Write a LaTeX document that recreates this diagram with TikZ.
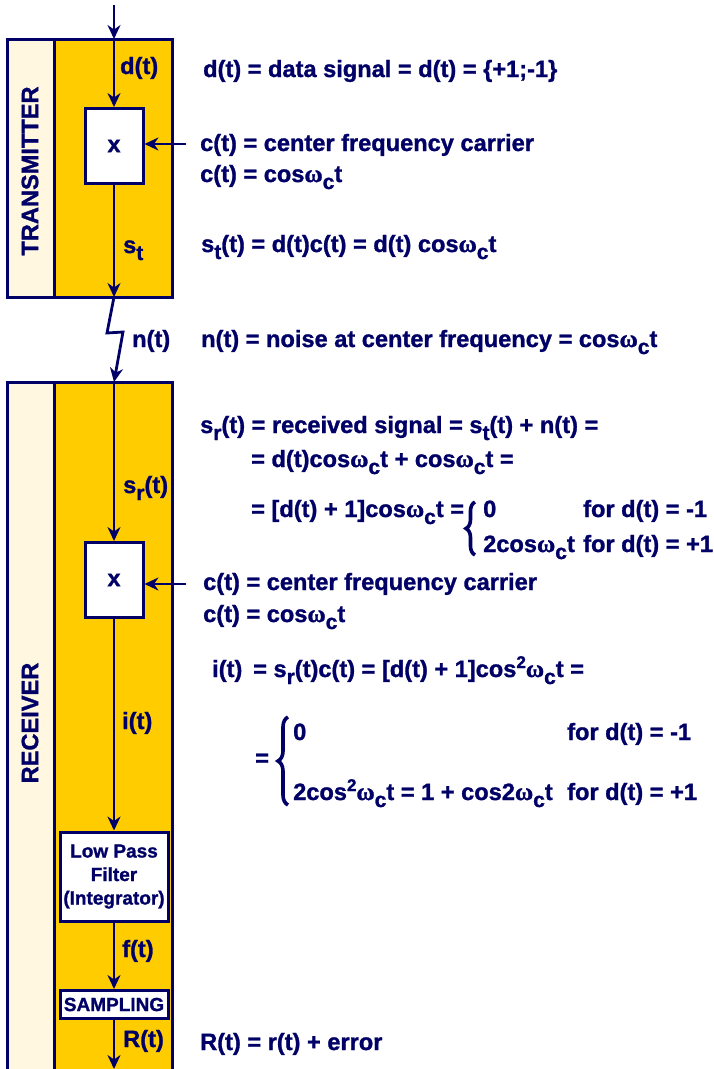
\documentclass[tikz,border=0pt]{standalone}
\usepackage{fontspec}
\setmainfont{Liberation Sans}[BoldFeatures={FakeBold=1.2}]
\newfontfamily\omfont{Liberation Serif}[BoldFeatures={FakeBold=1.2}]
\usetikzlibrary{arrows.meta,decorations.pathreplacing}
\definecolor{navy}{RGB}{0,0,102}
\definecolor{gold}{RGB}{255,204,0}
\definecolor{cream}{RGB}{255,247,224}
\newcommand{\lsub}[1]{\raisebox{-7pt}{\fontsize{21}{21}\selectfont #1}}
\newcommand{\usup}[1]{\raisebox{9pt}{\fontsize{17}{17}\selectfont #1}}
\newcommand{\cw}{{\omfont\fontsize{25}{28}\selectfont ω}\lsub{c}t}
\tikzset{
  txt/.style={font=\bfseries\fontsize{23.6}{28}\selectfont, text=navy, inner sep=0pt, anchor=base west},
  small/.style={font=\bfseries\fontsize{19}{23.5}\selectfont, text=navy, align=center},
  panel/.style={draw=navy, line width=3pt, fill=gold, inner sep=0pt},
  strip/.style={draw=navy, line width=3pt, fill=cream, inner sep=0pt},
  blk/.style={draw=navy, line width=3pt, fill=white, inner sep=0pt},
  arr/.style={draw=navy, line width=2.8pt, -{Stealth[length=14pt,width=13pt]}},
  brc/.style={draw=navy, line width=3.6pt, decorate}
}
\begin{document}
\begin{tikzpicture}[x=1pt,y=-1pt]
\clip (0,0) rectangle (714,1069);
\fill[white] (0,0) rectangle (714,1069);
% transmitter
\node[strip, minimum width=47, minimum height=258] (txs) at (30.5,168) {};
\node[panel, minimum width=118, minimum height=258] (tx) at (113,168) {};
\node[txt, anchor=center, rotate=90] (txl) at (30,171) {TRANSMITTER};
\node[blk, minimum width=58, minimum height=75] (m1) at (114,146) {};
\node[txt, anchor=center] (m1x) at (114,146) {x};
% receiver
\node[strip, minimum width=47, minimum height=720] (rxs) at (30.5,742) {};
\node[panel, minimum width=118, minimum height=720] (rx) at (113,742) {};
\node[txt, anchor=center, rotate=90] (rxl) at (30,723) {RECEIVER};
\node[blk, minimum width=58, minimum height=75] (m2) at (114,580) {};
\node[txt, anchor=center] (m2x) at (114,580) {x};
\node[blk, small, minimum width=108, minimum height=89, inner sep=0pt] (lpf) at (114,876.5) {Low Pass\\Filter\\(Integrator)};
\node[blk, small, minimum width=108, minimum height=28, inner sep=0pt] (smp) at (114,1004.5) {SAMPLING};
% coordinates
\coordinate (top) at (114,5);
\coordinate (txin) at (114,39);
\coordinate (txout) at (114,297);
\coordinate (z1) at (107,333);
\coordinate (z2) at (123,332);
\coordinate (rxin) at (114,382);
\coordinate (bot) at (114,1069);
\coordinate (c1) at (186,144);
\coordinate (c2) at (186,584);
% connectors
\draw[arr] (top) -- (txin);
\draw[arr] (txin) -- (m1.north);
\draw[arr] (m1.south) -- (txout);
\draw[arr] (txout) -- (z1) -- (z2) -- (rxin);
\draw[arr] (rxin) -- (m2.north);
\draw[arr] (m2.south) -- (lpf.north);
\draw[arr] (lpf.south) -- (smp.north);
\draw[arr] (smp.south) -- (bot);
\draw[arr] (c1) -- (c1 -| m1.east);
\draw[arr] (c2) -- (c2 -| m2.east);
% signal labels
\node[txt] (ld) at (120,74) {d(t)};
\node[txt] (ls) at (123,253) {s\lsub{t}};
\node[txt] (ln) at (132,347) {n(t)};
\node[txt] (lsr) at (123,493) {s\lsub{r}(t)};
\node[txt] (li) at (122,729) {i(t)};
\node[txt] (lf) at (122,957) {f(t)};
\node[txt] (lR) at (123,1047) {R(t)};
% equations
\node[txt] (e1) at (203,77) {d(t) = data signal = d(t) = \{+1;-1\}};
\node[txt] (e2) at (200,151) {c(t) = center frequency carrier};
\node[txt] (e3) at (200,182) {c(t) = cos\cw};
\node[txt] (e4) at (201,252) {s\lsub{t}(t) = d(t)c(t) = d(t) cos\cw};
\node[txt] (e5) at (201,347) {n(t) = noise at center frequency = cos\cw};
\node[txt] (e6) at (200,433) {s\lsub{r}(t) = received signal = s\lsub{t}(t) + n(t) =};
\node[txt] (e7) at (251,467) {= d(t)cos\cw{} + cos\cw{} =};
\node[txt] (e8) at (251,517) {= [d(t) + 1]cos\cw{} =};
\draw[brc, decoration={brace, amplitude=9pt}] (475,555) -- (475,502);
\node[txt] (e8a) at (483,517) {0};
\node[txt] (e8b) at (583,517) {for d(t) = -1};
\node[txt] (e8c) at (483,552) {2cos\cw};
\node[txt] (e8d) at (583,552) {for d(t) = +1};
\node[txt] (e9) at (203,590) {c(t) = center frequency carrier};
\node[txt] (e10) at (203,622) {c(t) = cos\cw};
\node[txt] (e11) at (212,677) {i(t)};
\node[txt] (e11b) at (253,677) {= s\lsub{r}(t)c(t) = [d(t) + 1]cos\usup{2}\cw{} =};
\node[txt] (e12) at (255,766) {=};
\draw[brc, decoration={brace, amplitude=10pt}] (288,805) -- (288,717);
\node[txt] (e12a) at (293,740) {0};
\node[txt] (e12b) at (567,740) {for d(t) = -1};
\node[txt] (e12c) at (293,800) {2cos\usup{2}\cw{} = 1 + cos2\cw};
\node[txt] (e12d) at (567,800) {for d(t) = +1};
\node[txt] (e13) at (200,1050) {R(t) = r(t) + error};
\end{tikzpicture}
\end{document}
